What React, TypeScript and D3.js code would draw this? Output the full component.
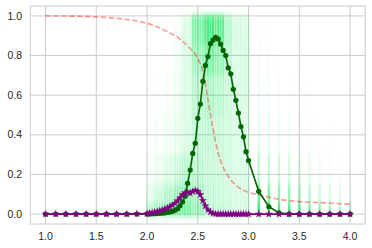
import * as d3 from 'd3';

// x grid: coarse left, dense middle, coarse right
const xLeft = [1.0, 1.1, 1.2, 1.3, 1.4, 1.5, 1.6, 1.7, 1.8, 1.9];
const xDense = [
  2.0, 2.025, 2.05, 2.075, 2.1, 2.125, 2.15, 2.175, 2.2, 2.225, 2.25, 2.275, 2.3, 2.325,
  2.35, 2.375, 2.4, 2.425, 2.45, 2.475, 2.5, 2.525, 2.55, 2.575, 2.6, 2.625, 2.65, 2.675,
  2.7, 2.725, 2.75, 2.775, 2.8, 2.825, 2.85, 2.875, 2.9, 2.925, 2.95, 2.975, 3.0,
];
const xRight = [3.1, 3.2, 3.3, 3.4, 3.5, 3.6, 3.7, 3.8, 3.9, 4.0];

const greenLeft = [0, 0, 0, 0, 0, 0, 0, 0, 0, 0];
const greenDense = [
  0.0, 0.001, 0.002, 0.002, 0.003, 0.004, 0.005, 0.006, 0.008, 0.011, 0.014, 0.019, 0.027,
  0.042, 0.062, 0.09, 0.155, 0.222, 0.306, 0.357, 0.483, 0.555, 0.67, 0.75, 0.795, 0.86,
  0.878, 0.892, 0.884, 0.858, 0.826, 0.8, 0.738, 0.708, 0.63, 0.574, 0.51, 0.442, 0.39,
  0.315, 0.27,
];
const greenRight = [0.115, 0.037, 0.006, 0, 0, 0, 0, 0, 0, 0];

const purpleLeft = [0, 0, 0, 0, 0, 0, 0, 0, 0, 0.002];
const purpleDense = [
  0.003, 0.005, 0.007, 0.01, 0.013, 0.017, 0.021, 0.026, 0.031, 0.037, 0.045, 0.055, 0.067,
  0.082, 0.098, 0.108, 0.11, 0.106, 0.114, 0.12, 0.115, 0.098, 0.068, 0.042, 0.022, 0.01,
  0.004, 0.001, 0, 0, 0, 0, 0, 0, 0, 0, 0, 0, 0, 0, 0,
];
const purpleRight = [0, 0, 0, 0, 0, 0, 0, 0, 0, 0];

// red dashed reference curve
const redX = [1.0, 1.25, 1.5, 1.75, 2.0, 2.1, 2.2, 2.3, 2.4, 2.5, 2.55, 2.6, 2.65, 2.7, 2.75, 2.8, 2.9, 3.0, 3.1, 3.2, 3.3, 3.5, 3.7, 4.0];
const redY = [1.0, 0.999, 0.995, 0.985, 0.962, 0.945, 0.92, 0.893, 0.848, 0.785, 0.72, 0.58, 0.43, 0.31, 0.235, 0.19, 0.135, 0.11, 0.097, 0.085, 0.075, 0.063, 0.058, 0.05];

// sample cloud: opacity of each band between consecutive levels, per column
const cloudLevels = [0, 0.05, 0.15, 0.3, 0.5, 0.7, 0.85, 0.95, 1.0];
const cloudKeyX = [2.0, 2.1, 2.2, 2.3, 2.4, 2.5, 2.6, 2.7, 2.8, 2.9, 3.0];
const cloudKeyProfiles = [
  [0.3, 0.1, 0.03, 0, 0, 0, 0, 0],
  [0.4, 0.2, 0.08, 0.03, 0.01, 0, 0, 0],
  [0.5, 0.3, 0.13, 0.06, 0.03, 0.015, 0, 0],
  [0.55, 0.4, 0.2, 0.1, 0.07, 0.05, 0.04, 0.02],
  [0.55, 0.45, 0.28, 0.16, 0.14, 0.14, 0.15, 0.12],
  [0.42, 0.34, 0.26, 0.22, 0.26, 0.36, 0.48, 0.5],
  [0.28, 0.24, 0.22, 0.24, 0.32, 0.52, 0.72, 0.75],
  [0.25, 0.21, 0.2, 0.22, 0.28, 0.42, 0.62, 0.65],
  [0.21, 0.19, 0.18, 0.19, 0.21, 0.25, 0.3, 0.3],
  [0.18, 0.16, 0.15, 0.15, 0.15, 0.15, 0.16, 0.15],
  [0.18, 0.16, 0.15, 0.15, 0.15, 0.15, 0.15, 0.13],
];
const cloudRightProfiles = [
  [0.85, 0.55, 0.27, 0.11, 0.06, 0.04, 0.025, 0.01],
  [0.85, 0.52, 0.23, 0.09, 0.05, 0.035, 0.02, 0],
  [0.78, 0.45, 0.2, 0.07, 0.03, 0.01, 0, 0],
  [0.72, 0.4, 0.16, 0.06, 0.02, 0, 0, 0],
  [0.66, 0.35, 0.13, 0.04, 0.01, 0, 0, 0],
  [0.58, 0.28, 0.1, 0.03, 0.01, 0, 0, 0],
  [0.48, 0.2, 0.06, 0.015, 0, 0, 0, 0],
  [0.38, 0.13, 0.04, 0.01, 0, 0, 0, 0],
  [0.32, 0.1, 0.02, 0, 0, 0, 0, 0],
  [0.26, 0.06, 0.01, 0, 0, 0, 0, 0],
];

const xTicks = [1.0, 1.5, 2.0, 2.5, 3.0, 3.5, 4.0];
const yTicks = [0.0, 0.2, 0.4, 0.6, 0.8, 1.0];

const width = 372;
const height = 248;
const plot = { left: 30.3, right: 365.3, top: 6, bottom: 224 };

export default function App() {
  const x = d3.scaleLinear().domain([0.85, 4.15]).range([plot.left, plot.right]);
  const y = d3.scaleLinear().domain([-0.05, 1.05]).range([plot.bottom, plot.top]);

  const allX = [...xLeft, ...xDense, ...xRight];
  const greenAll = [...greenLeft, ...greenDense, ...greenRight];
  const purpleAll = [...purpleLeft, ...purpleDense, ...purpleRight];
  const greenPts = allX.map((d, i) => [d, greenAll[i]] as [number, number]);
  const purplePts = allX.map((d, i) => [d, purpleAll[i]] as [number, number]);
  const redPts = redX.map((d, i) => [d, redY[i]] as [number, number]);

  const line = d3.line<[number, number]>().x((d) => x(d[0])).y((d) => y(d[1]));
  const redLine = d3.line<[number, number]>().x((d) => x(d[0])).y((d) => y(d[1])).curve(d3.curveMonotoneX);
  const star = d3.symbol().type(d3.symbolStar).size(20)();

  const cloudCols = [
    ...xDense.map((cx) => ({
      cx,
      w: 2.2,
      prof: cloudKeyProfiles[d3.minIndex(cloudKeyX, (k) => Math.abs(k - cx))],
    })),
    ...xRight.map((cx, i) => ({ cx, w: 2.4, prof: cloudRightProfiles[i] })),
  ];

  const cloudRects = cloudCols.flatMap((c, i) =>
    c.prof.map((op, j) => ({
      key: `c${i}-${j}`,
      x: x(c.cx) - c.w / 2,
      w: c.w,
      y0: y(cloudLevels[j + 1]) - (j === c.prof.length - 1 ? 1 : 0),
      y1: y(cloudLevels[j]) + (j === 0 ? 2 : 0),
      op,
    }))
  ).filter((r) => r.op > 0);

  const font = '"Liberation Sans", Arial, sans-serif';

  return (
    <svg width={width} height={height} style={{ position: 'absolute', left: 0, top: 0, background: '#fff' }}>
      <defs>
        <filter id="soft" x="0" y="0" width={width} height={height} filterUnits="userSpaceOnUse">
          <feGaussianBlur stdDeviation="0.45 3" />
        </filter>
      </defs>

      {xTicks.map((t) => (
        <line key={`gx${t}`} x1={x(t)} x2={x(t)} y1={plot.top} y2={plot.bottom} stroke="#cccccc" strokeWidth={1} />
      ))}
      {yTicks.map((t) => (
        <line key={`gy${t}`} x1={plot.left} x2={plot.right} y1={y(t)} y2={y(t)} stroke="#cccccc" strokeWidth={1} />
      ))}
      <rect x={plot.left} y={plot.top} width={plot.right - plot.left} height={plot.bottom - plot.top} fill="none" stroke="#cccccc" strokeWidth={1} />

      <g filter="url(#soft)">
        {cloudRects.map((r) => (
          <rect key={r.key} x={r.x} y={r.y0} width={r.w} height={r.y1 - r.y0} fill="#00e850" fillOpacity={r.op} />
        ))}
      </g>

      <path d={redLine(redPts) ?? ''} fill="none" stroke="red" strokeOpacity={0.4} strokeWidth={1.6} strokeDasharray="5.5,2.4" />

      <path d={line(greenPts) ?? ''} fill="none" stroke="#006400" strokeWidth={1.6} />
      {greenPts.map((d, i) => (
        <circle key={`g${i}`} cx={x(d[0])} cy={y(d[1])} r={2.6} fill="#006400" />
      ))}

      <path d={line(purplePts) ?? ''} fill="none" stroke="#800080" strokeWidth={1.6} />
      {purplePts.map((d, i) => (
        <path key={`p${i}`} d={star ?? ''} transform={`translate(${x(d[0])},${y(d[1])})`} fill="#800080" />
      ))}

      {xTicks.map((t) => (
        <text key={`tx${t}`} x={x(t)} y={239.5} textAnchor="middle" fontFamily={font} fontSize={10.5} fill="#262626">
          {t.toFixed(1)}
        </text>
      ))}
      {yTicks.map((t) => (
        <text key={`ty${t}`} x={22} y={y(t)} dy="0.35em" textAnchor="end" fontFamily={font} fontSize={10.5} fill="#262626">
          {t.toFixed(1)}
        </text>
      ))}
    </svg>
  );
}
